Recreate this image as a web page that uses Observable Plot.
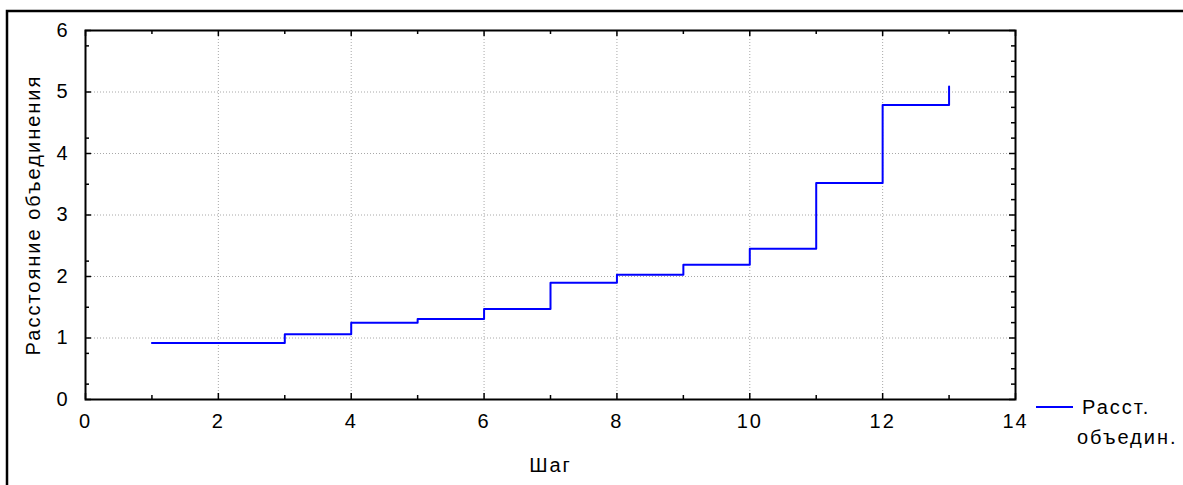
<!DOCTYPE html>
<html><head><meta charset="utf-8">
<script src="https://cdn.jsdelivr.net/npm/d3@7"></script>
<script src="https://cdn.jsdelivr.net/npm/@observablehq/plot@0.6"></script>
<style>body{margin:0;background:#fff;} svg{display:block;} svg text{letter-spacing:2px;}</style>
</head><body><div id="chart"></div>
<script>
// Data
const steps = [1, 2, 3, 4, 5, 6, 7, 8, 9, 10, 11, 12, 13];
const distances = [0.92, 0.92, 1.06, 1.25, 1.31, 1.47, 1.90, 2.03, 2.19, 2.45, 3.52, 4.79, 5.09];
const xTicks = [0, 2, 4, 6, 8, 10, 12, 14];
const xMinorTicks = [1, 3, 5, 7, 9, 11, 13];
const yTicks = [0, 1, 2, 3, 4, 5, 6];
const yMinorTicksLeft = [0.25, 0.75, 1.5, 2.25, 3.5, 4.25, 5.75];
const yMinorTicksRight = [0.25, 0.5, 0.75, 1.25, 1.5, 1.75, 2.25, 2.5, 2.75, 3.25, 3.5, 3.75, 4.25, 4.5, 4.75, 5.25, 5.5, 5.75];
const xLabel = "Шаг";
const yLabel = "Расстояние объединения";
const legendLines = ["Расст.", "объедин."];

const data = steps.map((s, i) => ({step: s, dist: distances[i]}));

const W = 1183, H = 485;
const mL = 85, mT = 30, mR = 168, mB = 86;
const pH = H - mT - mB;
const pW = W - mL - mR;
const font = "'Liberation Sans', Arial, sans-serif";
const fs = 20;

const chart = Plot.plot({
  width: W, height: H,
  marginLeft: mL, marginTop: mT, marginRight: mR, marginBottom: mB,
  style: {fontFamily: font, fontSize: fs + "px", color: "#000", background: "#fff", overflow: "visible"},
  x: {domain: [0, 14]},
  y: {domain: [0, 6]},
  marks: [
    Plot.gridX(xTicks.slice(1, -1), {stroke: "#a8a8a8", strokeOpacity: 1, strokeDasharray: "1,2"}),
    Plot.gridY(yTicks.slice(1, -1), {stroke: "#a8a8a8", strokeOpacity: 1, strokeDasharray: "1,2"}),
    // inward ticks bottom/top
    Plot.ruleX(xTicks, {x: d => d, insetTop: pH - 6, stroke: "#000", strokeWidth: 1.5}),
    Plot.ruleX(xMinorTicks, {x: d => d, insetTop: pH - 4, stroke: "#000", strokeWidth: 1.5}),
    Plot.ruleX(xTicks, {x: d => d, insetBottom: pH - 6, stroke: "#000", strokeWidth: 1.5}),
    Plot.ruleX(xMinorTicks, {x: d => d, insetBottom: pH - 4, stroke: "#000", strokeWidth: 1.5}),
    // inward ticks left/right
    Plot.ruleY(yTicks, {y: d => d, insetRight: pW - 6, stroke: "#000", strokeWidth: 1.5}),
    Plot.ruleY(yMinorTicksLeft, {y: d => d, insetRight: pW - 4, stroke: "#000", strokeWidth: 1.5}),
    Plot.ruleY(yTicks, {y: d => d, insetLeft: pW - 6, stroke: "#000", strokeWidth: 1.5}),
    Plot.ruleY(yMinorTicksRight, {y: d => d, insetLeft: pW - 4, stroke: "#000", strokeWidth: 1.5}),
    Plot.axisX({ticks: xTicks, tickSize: 0, tickPadding: 14, label: null, fontSize: fs, tickFormat: d3.format("d")}),
    Plot.axisY({ticks: yTicks, tickSize: 0, tickPadding: 16, label: null, fontSize: fs, tickFormat: d3.format("d")}),
    Plot.line(data, {x: "step", y: "dist", curve: "step-after", stroke: "#0000ff", strokeWidth: 2}),
    Plot.frame({stroke: "#000", strokeWidth: 2}),
    Plot.text([xLabel], {frameAnchor: "bottom", dy: 66, fontSize: fs, textAnchor: "middle", lineAnchor: "middle"}),
    Plot.text([yLabel], {frameAnchor: "left", dx: -52, rotate: -90, fontSize: fs, textAnchor: "middle", lineAnchor: "middle"})
  ]
});

document.getElementById("chart").appendChild(chart);

const svg = d3.select(chart);
// outer panel border
svg.append("rect").attr("x", 7).attr("y", 11).attr("width", W + 20).attr("height", H + 20)
  .attr("fill", "none").attr("stroke", "#000").attr("stroke-width", 2.5);
// legend
svg.append("line").attr("x1", 1036).attr("x2", 1073).attr("y1", 407).attr("y2", 407)
  .attr("stroke", "#0000ff").attr("stroke-width", 2);
svg.append("text").attr("x", 1082).attr("y", 407).attr("dy", "0.35em").attr("text-anchor", "start")
  .attr("font-family", font).attr("font-size", fs).text(legendLines[0]);
svg.append("text").attr("x", 1077).attr("y", 437).attr("dy", "0.35em").attr("text-anchor", "start")
  .attr("font-family", font).attr("font-size", fs).text(legendLines[1]);
</script></body></html>
